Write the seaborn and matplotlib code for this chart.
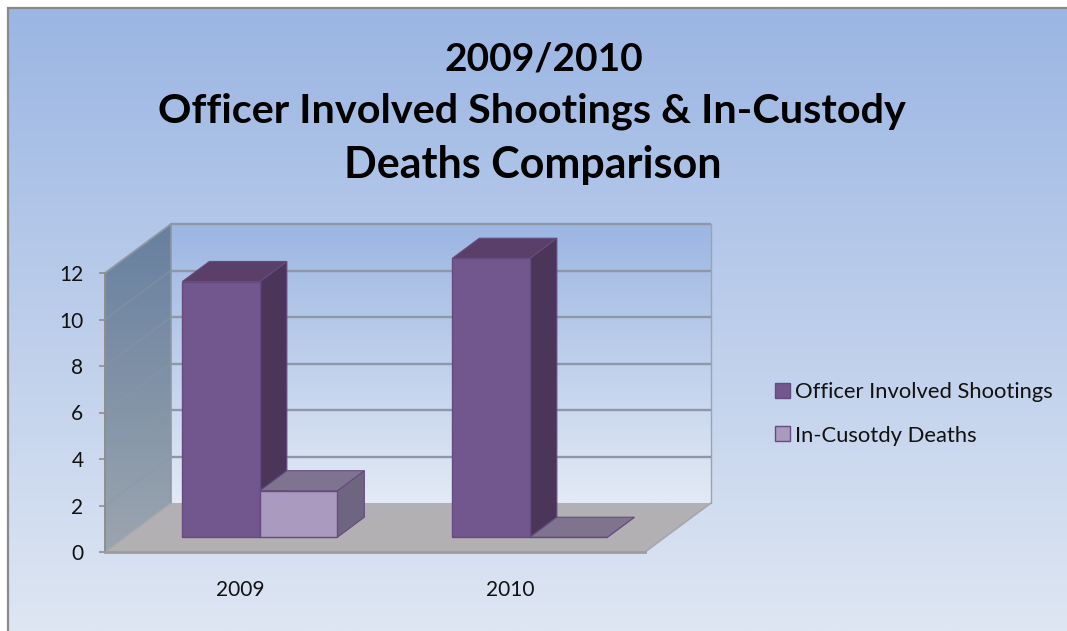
import numpy as np
import pandas as pd
import matplotlib
matplotlib.use("Agg")
import matplotlib.pyplot as plt
from matplotlib.colors import LinearSegmentedColormap
from matplotlib.patches import Polygon
import seaborn as sns

# Chart data
years = ["2009", "2010"]
officer_shootings = [11, 12]
custody_deaths = [2, 0]
series_names = ["Officer Involved Shootings", "In-Cusotdy Deaths"]
title_lines = ["2009/2010", "Officer Involved Shootings & In-Custody", "Deaths Comparison"]
value_ticks = [0, 2, 4, 6, 8, 10, 12]

# Figure layout, in pixels
W, H = 1067, 631
PLOT_L, PLOT_R, PLOT_T, PLOT_B = 105, 645, 273, 552
DEPTH_PX_X, DEPTH_PX_Y = 66, 49

# Face colours per series: front, side, top
front_colors = ["#72578F", "#AA9ABF"]
side_colors = ["#4B3659", "#6E6681"]
top_colors = ["#5A3F69", "#7F7490"]
edge_color = "#654B80"
grid_color = "#8D97A6"

sns.set_theme(style="white")
plt.rcParams["font.family"] = ["Lato", "DejaVu Sans"]

fig = plt.figure(figsize=(W / 100, H / 100), dpi=100, facecolor="white")

# Page background in pixel coordinates, holding every gradient-filled surface
bg = fig.add_axes([0, 0, 1, 1], zorder=0)
bg.axis("off")


def gradient_face(points, colors, z):
    """Fill a polygon, given in pixels, with a top-to-bottom gradient."""
    xs, ys = zip(*points)
    cmap = LinearSegmentedColormap.from_list("face", colors)
    im = bg.imshow(np.linspace(0, 1, 256)[:, None], cmap=cmap,
                   extent=[min(xs), max(xs), max(ys), min(ys)],
                   aspect="auto", interpolation="bilinear", zorder=z)
    im.set_clip_path(Polygon(points, closed=True, transform=bg.transData))


# Page fill and frame
gradient_face([(9, 9), (W, 9), (W, H), (9, H)], ["#9BB6E3", "#DEE6F3"], 0)
bg.plot([8, 8, W], [H, 8, 8], color="#8A8A8A", lw=1.6, solid_joinstyle="miter", zorder=1)
# Back wall
gradient_face([(PLOT_L + DEPTH_PX_X, PLOT_B - DEPTH_PX_Y), (PLOT_R + DEPTH_PX_X, PLOT_B - DEPTH_PX_Y),
               (PLOT_R + DEPTH_PX_X, PLOT_T - DEPTH_PX_Y), (PLOT_L + DEPTH_PX_X, PLOT_T - DEPTH_PX_Y)],
              ["#9CB6E2", "#E3EAF5"], 2)
# Side wall
gradient_face([(PLOT_L, PLOT_B), (PLOT_L + DEPTH_PX_X, PLOT_B - DEPTH_PX_Y),
               (PLOT_L + DEPTH_PX_X, PLOT_T - DEPTH_PX_Y), (PLOT_L, PLOT_T)],
              ["#67809F", "#9BA5AF"], 3)
bg.set_xlim(0, W)
bg.set_ylim(H, 0)

ax = fig.add_axes([PLOT_L / W, 1 - PLOT_B / H, (PLOT_R - PLOT_L) / W, (PLOT_B - PLOT_T) / H],
                  zorder=1)
ax.patch.set_visible(False)

df = pd.DataFrame({
    "year": years * 2,
    "count": officer_shootings + custody_deaths,
    "series": [series_names[0]] * 2 + [series_names[1]] * 2,
})

sns.barplot(data=df, x="year", y="count", hue="series", hue_order=series_names,
            palette=front_colors, width=0.574, gap=0, errorbar=None, saturation=1,
            edgecolor=edge_color, linewidth=1.0, ax=ax)

ax.set_xlim(-0.5, 1.5)
ax.set_ylim(0, 12)
ax.set_xlabel("")
ax.set_ylabel("")

# Depth of the 3D box, expressed in data units
DX = DEPTH_PX_X * 2.0 / (PLOT_R - PLOT_L)
DY = DEPTH_PX_Y * 12.0 / (PLOT_B - PLOT_T)
x0, x1 = ax.get_xlim()
y0, y1 = ax.get_ylim()

# Floor
ax.add_patch(Polygon([(x0, y0), (x1, y0), (x1 + DX, y0 + DY), (x0 + DX, y0 + DY)], closed=True,
                     facecolor="#B2B0B3", edgecolor="none", zorder=0.7, clip_on=False))

# Gridlines run across the back wall and fold down along the side wall
for v in value_ticks[1:]:
    ax.plot([x0 + DX, x1 + DX], [v + DY, v + DY], color=grid_color, lw=1.7, zorder=0.8,
            clip_on=False, solid_capstyle="butt")
    side_alpha = 1 if v == value_ticks[-1] else 0.4
    ax.plot([x0, x0 + DX], [v, v + DY], color=grid_color, lw=1.3, alpha=side_alpha, zorder=0.8,
            clip_on=False)
ax.plot([x0 + DX, x0 + DX], [y0 + DY, y1 + DY], color=grid_color, lw=1.2, zorder=0.8, clip_on=False)
ax.plot([x1 + DX, x1 + DX], [y0 + DY, y1 + DY], color="#9AA3B0", lw=1.0, zorder=0.8, clip_on=False)
ax.plot([x0, x0 + DX], [y0, y0 + DY], color="#A5A7AC", lw=1.0, zorder=0.8, clip_on=False)
ax.plot([x1, x1 + DX], [y0, y0 + DY], color="#A5A7AC", lw=1.2, zorder=0.8, clip_on=False)

# Lift the bars off the front edge and give each one side and top faces
BAR_START = 0.30
BAR_DEPTH = 0.41
ddx, ddy = BAR_DEPTH * DX, BAR_DEPTH * DY
bars = []
for s_idx, container in enumerate(ax.containers):
    bars.extend((patch, s_idx) for patch in container)
bars.sort(key=lambda item: item[0].get_x())

z = 2.0
for patch, s_idx in bars:
    patch.set_x(patch.get_x() + BAR_START * DX)
    patch.set_y(patch.get_y() + BAR_START * DY)
    patch.set_clip_on(False)
    left, right = patch.get_x(), patch.get_x() + patch.get_width()
    bottom, top = patch.get_y(), patch.get_y() + patch.get_height()
    ax.add_patch(Polygon([(right, bottom), (right + ddx, bottom + ddy),
                          (right + ddx, top + ddy), (right, top)], closed=True,
                         facecolor=side_colors[s_idx], edgecolor=edge_color, linewidth=0.8,
                         zorder=z, clip_on=False))
    ax.add_patch(Polygon([(left, top), (right, top), (right + ddx, top + ddy),
                          (left + ddx, top + ddy)], closed=True,
                         facecolor=top_colors[s_idx], edgecolor=edge_color, linewidth=0.8,
                         zorder=z + 0.1, clip_on=False))
    patch.set_zorder(z + 0.2)
    z += 1

# Axes furniture
sns.despine(ax=ax, top=True, right=True)
ax.spines["left"].set_color("#8E8E8E")
ax.spines["left"].set_linewidth(1.4)
ax.spines["bottom"].set_color("#9A9C9E")
ax.spines["bottom"].set_linewidth(2.0)
ax.set_yticks(value_ticks)
ax.set_yticklabels([str(v) for v in value_ticks])
ax.tick_params(axis="y", length=4.5, width=1.2, color="#8E8E8E", labelsize=15,
               labelcolor="#111111", pad=11, left=True)
ax.tick_params(axis="x", length=0, labelsize=15, labelcolor="#111111", pad=20)

# Legend
handles, labels = ax.get_legend_handles_labels()
for h in handles:
    h.set_linewidth(1.0)
ax.legend(handles, labels, loc="center left", bbox_to_anchor=(775 / W, 1 - 414 / H),
          bbox_transform=fig.transFigure, frameon=False, fontsize=15.85, handlelength=0.68,
          handleheight=0.68, handletextpad=0.25, labelspacing=1.05, borderpad=0, borderaxespad=0,
          labelcolor="#111111")

# Title, one text per line
for line, cx, cy, size in zip(title_lines, [544, 532, 533], [59, 111, 165], [28, 29.8, 31]):
    fig.text(cx / W, 1 - cy / H, line, ha="center", va="center", fontsize=size,
             fontweight="bold", color="black")

fig.savefig("out.png", dpi=100)
